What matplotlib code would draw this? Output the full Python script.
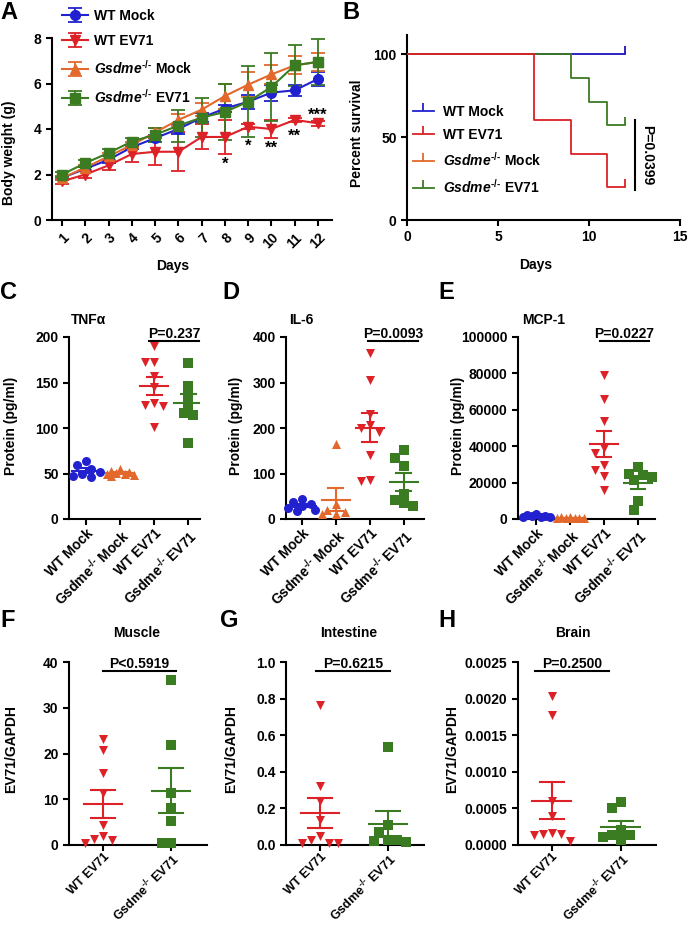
import numpy as np
import matplotlib
matplotlib.use("Agg")
import matplotlib.pyplot as plt
from matplotlib.path import Path

plt.rcParams['font.family'] = ['Liberation Sans', 'DejaVu Sans']
plt.rcParams['font.weight'] = 'bold'
plt.rcParams['axes.labelweight'] = 'bold'
plt.rcParams['font.size'] = 10
plt.rcParams['mathtext.fontset'] = 'custom'
plt.rcParams['mathtext.rm'] = 'Liberation Sans:bold'
plt.rcParams['mathtext.it'] = 'Liberation Sans:italic:bold'
plt.rcParams['mathtext.bf'] = 'Liberation Sans:bold'
plt.rcParams['axes.linewidth'] = 1.5
for a in ['xtick', 'ytick']:
    plt.rcParams[a + '.major.width'] = 1.5
    plt.rcParams[a + '.major.size'] = 4
    plt.rcParams[a + '.labelsize'] = 10

BLUE = '#2121cf'
RED = '#dc2127'
ORANGE = '#e2682b'
GREEN = '#3b7b22'

# A - body weight
days = np.arange(1, 13)
wt_mock = [1.85, 2.25, 2.65, 3.2, 3.6, 4.0, 4.5, 4.9, 5.2, 5.6, 5.7, 6.2]
wt_mock_err = [0.1, 0.1, 0.15, 0.1, 0.15, 0.2, 0.2, 0.15, 0.3, 0.35, 0.25, 0.3]
wt_ev71 = [1.7, 2.0, 2.4, 2.9, 3.0, 3.0, 3.65, 3.65, 4.1, 4.0, 4.4, 4.25]
wt_ev71_err = [0.1, 0.15, 0.2, 0.35, 0.6, 0.85, 0.55, 0.75, 0.1, 0.4, 0.1, 0.1]
ko_mock = [1.85, 2.3, 2.8, 3.3, 3.85, 4.4, 4.85, 5.45, 5.95, 6.4, 6.8, 6.95]
ko_mock_err = [0.1, 0.1, 0.15, 0.15, 0.2, 0.25, 0.3, 0.55, 0.55, 0.4, 0.4, 0.4]
ko_ev71 = [2.0, 2.5, 2.95, 3.45, 3.75, 4.15, 4.5, 4.75, 5.2, 5.85, 6.8, 6.95]
ko_ev71_err = [0.1, 0.15, 0.15, 0.15, 0.3, 0.7, 0.85, 1.25, 1.55, 1.5, 0.9, 1.0]
star_days = [8, 9, 10, 11, 12]
star_text = ['*', '*', '**', '**', '***']
star_y = [2.45, 3.25, 3.15, 3.7, 4.6]

group_names = ['WT Mock', 'WT EV71', r'$\it{Gsdme}^{\text{-/-}}$ Mock', r'$\it{Gsdme}^{\text{-/-}}$ EV71']

# B - survival
surv_t = [[0, 12], [0, 7, 9, 11, 12], [0, 12], [0, 9, 10, 11, 12]]
surv_s = [[100, 100], [100, 60, 40, 20, 20], [100, 100], [100, 85.7, 71.4, 57.1, 57.1]]

# C-E cytokines
cyto_labels = ['WT Mock', r'Gsdme$^{\text{-/-}}$ Mock', 'WT EV71', r'Gsdme$^{\text{-/-}}$ EV71']
tnf = [[64, 59, 55, 52, 50, 47, 46],
       [55, 53, 52, 51, 50, 49, 48, 47],
       [190, 173, 172, 157, 145, 127, 125, 124, 101],
       [171, 146, 136, 125, 116, 114, 83]]
il6 = [[45, 38, 32, 28, 25, 20, 18],
       [165, 32, 20, 15, 12, 10],
       [365, 305, 230, 207, 200, 192, 140, 86, 84],
       [152, 135, 117, 55, 42, 35, 28]]
mcp1 = [[3000, 2000, 1600, 1300, 1100, 900, 1500],
        [1000, 800, 700, 500, 400, 300, 600, 900],
        [79000, 65900, 53800, 38900, 36500, 29700, 27000, 23400, 16100],
        [28500, 25000, 24000, 23000, 21500, 9700, 5100]]

# F-H viral load
ev_labels = ['WT EV71', r'Gsdme$^{\text{-/-}}$ EV71']
muscle = [[23.1, 20.8, 15.8, 11.3, 4.4, 1.9, 1.3, 1.2, 0.4],
          [36, 21.8, 11.3, 8.1, 5.2, 0.4, 0.4]]
intestine = [[0.764, 0.32, 0.24, 0.138, 0.047, 0.03, 0.011, 0.011, 0.011],
             [0.537, 0.11, 0.069, 0.03, 0.025, 0.02, 0.015]]
brain = [[0.00203, 0.00177, 0.0006, 0.00039, 0.00016, 0.00015, 0.00015, 0.00014, 0.00005],
         [0.000594, 0.0005, 0.00021, 0.00013, 0.00013, 0.00011, 0.00007]]

W, H = 688.0, 925.0


def box(l, t, r, b):
    return [l / W, 1 - b / H, (r - l) / W, (b - t) / H]


def style(ax):
    ax.spines['top'].set_visible(False)
    ax.spines['right'].set_visible(False)
    ax.tick_params(direction='out')


def swarm(vals, px_x, px_y, d, kmax):
    # simple beeswarm in pixels; if no free slot, take the least crowded one
    vals = np.asarray(vals, float)
    xs = np.zeros(len(vals))
    done = []
    for i in np.argsort(-vals):
        y = vals[i] * px_y
        best_x, best_gap = 0.0, -1.0
        for k in sorted(range(-kmax, kmax + 1), key=abs):
            x = k * d / 2.0
            gap = min([np.hypot(x - xo, y - yo) for xo, yo in done] or [1e9])
            if gap >= d:
                best_x = x
                break
            if gap > best_gap:
                best_x, best_gap = x, gap
        done.append((best_x, y))
        xs[i] = best_x / px_x
    return xs


def dot_panel(ax, groups, colors, markers, ymax, px_x, mean_w, cap_w, kmax):
    for i, (vals, c, m) in enumerate(zip(groups, colors, markers)):
        vals = np.asarray(vals, float)
        off = swarm(vals, px_x, 182.0 / ymax, 9.0, kmax)
        ax.scatter(i + off, vals, s=42, marker=m, color=c, linewidths=0, zorder=3, clip_on=False)
        mu = vals.mean()
        se = vals.std(ddof=1) / np.sqrt(len(vals))
        ax.plot([i - mean_w, i + mean_w], [mu, mu], color=c, lw=1.5, zorder=4)
        ax.plot([i, i], [mu - se, mu + se], color=c, lw=1.5, zorder=4)
        for yy in [mu - se, mu + se]:
            ax.plot([i - cap_w, i + cap_w], [yy, yy], color=c, lw=1.5, zorder=4)


def pbar(ax, x0, x1, y, text):
    ax.plot([x0, x1], [y, y], color='k', lw=1.5, clip_on=False)
    ax.text((x0 + x1) / 2, y, text, ha='center', va='bottom', fontsize=10, fontweight='bold')


fig = plt.figure(figsize=(6.88, 9.25), dpi=100)

# ---- A
axA = fig.add_axes(box(52, 38, 332, 220))
style(axA)
series = [(wt_mock, wt_mock_err, BLUE, 'o'), (wt_ev71, wt_ev71_err, RED, 'v'),
          (ko_mock, ko_mock_err, ORANGE, '^'), (ko_ev71, ko_ev71_err, GREEN, 's')]
for (y, e, c, m), lab in zip(series, group_names):
    axA.errorbar(days, y, yerr=e, color=c, marker=m, ms=7, lw=1.5, elinewidth=1.3,
                 capsize=5, capthick=1.3, label=lab)
for d, t, y in zip(star_days, star_text, star_y):
    axA.text(d, y, t, ha='center', va='center', fontsize=12, fontweight='bold')
axA.set_xlim(0.57, 12.6)
axA.set_ylim(0, 8)
axA.set_xticks(days)
axA.set_xticklabels([str(d) for d in days], rotation=45, ha='right', rotation_mode='anchor')
axA.set_yticks([0, 2, 4, 6, 8])
axA.set_ylabel('Body weight (g)')
axA.set_xlabel('Days')
axA.yaxis.set_label_coords(-0.129, 0.37)
axA.xaxis.set_label_coords(0.43, -0.214)
axA.legend(loc='center left', bbox_to_anchor=(0.036, 0.895), frameon=False, borderpad=0,
           borderaxespad=0, handlelength=1.9, handletextpad=0.4, labelspacing=0.8,
           prop={'weight': 'bold', 'size': 10})

# ---- B
axB = fig.add_axes(box(407, 35, 680, 220))
style(axB)
tick_marker = Path([(0, 0), (0, 1)], [Path.MOVETO, Path.LINETO])
colorsB = [BLUE, RED, ORANGE, GREEN]
zs = [3, 6, 2, 5]
for t, s, c, z, lab in zip(surv_t, surv_s, colorsB, zs, group_names):
    axB.step(t, s, where='post', color=c, lw=1.3, zorder=z, marker=tick_marker,
             markevery=[len(t) - 1], ms=11, mew=1.3, label=lab)
axB.plot([12.55, 12.55], [18, 60], color='k', lw=1.5)
axB.text(13.2, 39, 'P=0.0399', rotation=270, ha='center', va='center', fontsize=10, fontweight='bold')
axB.set_xlim(0, 15)
axB.set_ylim(0, 111.5)
axB.set_xticks([0, 5, 10, 15])
axB.set_yticks([0, 50, 100])
axB.set_ylabel('Percent survival')
axB.set_xlabel('Days')
axB.yaxis.set_label_coords(-0.158, 0.47)
axB.xaxis.set_label_coords(0.47, -0.205)
axB.legend(loc='center left', bbox_to_anchor=(0.022, 0.375), frameon=False, borderpad=0,
           borderaxespad=0, handlelength=1.5, handletextpad=0.65, labelspacing=0.65,
           prop={'weight': 'bold', 'size': 10})

# ---- C-E
cyto_colors = [BLUE, ORANGE, RED, GREEN]
cyto_markers = ['o', '^', 'v', 's']
panels = [
    (box(69, 337, 200, 519), tnf, 200, (-0.5, 3.35), [0, 50, 100, 150, 200], 'TNFα', 0.15,
     (1.85, 3.32, 196, 'P=0.237'), -0.39),
    (box(286, 337, 424, 519), il6, 400, (-0.47, 3.59), [0, 100, 200, 300, 400], 'IL-6', 0.11,
     (1.94, 3.41, 391, 'P=0.0093'), -0.31),
    (box(518, 337, 655, 519), mcp1, 100000, (-0.53, 3.5), [0, 20000, 40000, 60000, 80000, 100000],
     'MCP-1', 0.19, (1.88, 3.32, 97800, 'P=0.0227'), -0.39),
]
for rect, data, ymax, xl, yt, title, tx, pb, ylx in panels:
    ax = fig.add_axes(rect)
    style(ax)
    dot_panel(ax, data, cyto_colors, cyto_markers, ymax, 34.0, 0.42, 0.22, 3)
    ax.set_xlim(*xl)
    ax.set_ylim(0, ymax)
    ax.set_yticks(yt)
    ax.set_xticks(range(4))
    ax.set_xticklabels(cyto_labels, rotation=45, ha='right', rotation_mode='anchor')
    ax.tick_params(axis='x', pad=1.5)
    ax.set_ylabel('Protein (pg/ml)')
    ax.yaxis.set_label_coords(ylx, 0.51)
    ax.text(tx, 1.093, title, transform=ax.transAxes, ha='center', va='center',
            fontsize=10, fontweight='bold')
    pbar(ax, *pb)

# ---- F-H
ev_colors = [RED, GREEN]
ev_markers = ['v', 's']
panels = [
    (box(69, 662, 207, 845), muscle, 40, (-0.5, 1.53), [0, 10, 20, 30, 40], None, 'Muscle', 0.49,
     (0.0, 1.07, 38, 'P<0.5919'), -0.37),
    (box(286, 662, 424, 845), intestine, 1.0, (-0.5, 1.53), [0, 0.2, 0.4, 0.6, 0.8, 1.0], '%.1f',
     'Intestine', 0.457, (-0.06, 1.03, 0.95, 'P=0.6215'), -0.35),
    (box(518, 662, 656, 845), brain, 0.0025, (-0.49, 1.51),
     [0, 0.0005, 0.001, 0.0015, 0.002, 0.0025], '%.4f', 'Brain', 0.40,
     (-0.25, 0.83, 0.00238, 'P=0.2500'), -0.43),
]
for rect, data, ymax, xl, yt, fmt, title, tx, pb, ylx in panels:
    ax = fig.add_axes(rect)
    style(ax)
    dot_panel(ax, data, ev_colors, ev_markers, ymax, 68.0, 0.28, 0.17, 4)
    ax.set_xlim(*xl)
    ax.set_ylim(0, ymax)
    ax.set_yticks(yt)
    if fmt:
        ax.set_yticklabels([fmt % v for v in yt])
    ax.set_xticks(range(2))
    ax.set_xticklabels(ev_labels, rotation=45, ha='right', rotation_mode='anchor', fontsize=9)
    ax.tick_params(axis='x', pad=0.5)
    ax.set_ylabel('EV71/GAPDH')
    ax.yaxis.set_label_coords(ylx, 0.525)
    ax.text(tx, 1.158, title, transform=ax.transAxes, ha='center', va='center',
            fontsize=10, fontweight='bold')
    pbar(ax, *pb)

# panel letters
for letter, x, y in [('A', 0, 1), ('B', 342, 1), ('C', 0, 281), ('D', 222, 281), ('E', 438, 281),
                     ('F', 0, 609), ('G', 220, 609), ('H', 438, 609)]:
    fig.text(x / W, 1 - y / H, letter, ha='left', va='top', fontsize=17, fontweight='bold')

fig.savefig('out.png', dpi=100)
